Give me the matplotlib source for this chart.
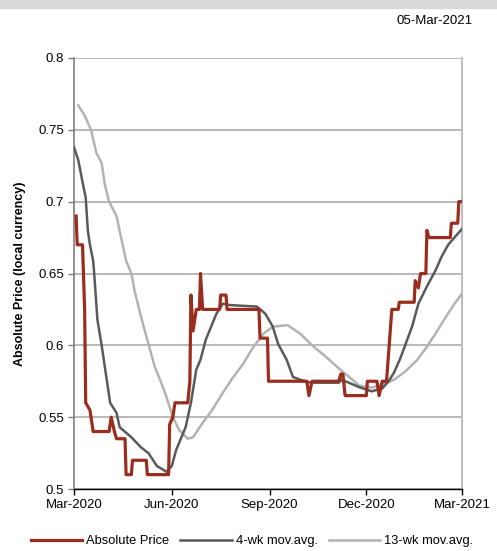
import numpy as np
import pandas as pd
import matplotlib
matplotlib.use("Agg")
import matplotlib.pyplot as plt
from matplotlib.patches import Rectangle

plt.rcParams['font.family'] = ['Liberation Sans', 'DejaVu Sans']

# absolute price
price_dates = ['2020-03-03', '2020-03-04', '2020-03-09', '2020-03-11', '2020-03-12', '2020-03-16',
               '2020-03-19', '2020-04-03', '2020-04-05', '2020-04-08', '2020-04-10', '2020-04-18',
               '2020-04-19', '2020-04-24', '2020-04-25', '2020-05-08', '2020-05-09', '2020-05-29',
               '2020-05-30', '2020-06-02', '2020-06-04', '2020-06-16', '2020-06-18', '2020-06-19',
               '2020-06-21', '2020-06-24', '2020-06-27', '2020-06-28', '2020-06-30', '2020-07-16',
               '2020-07-17', '2020-07-22', '2020-07-23', '2020-08-22', '2020-08-23', '2020-08-30',
               '2020-08-31', '2020-10-06', '2020-10-08', '2020-10-11', '2020-11-05', '2020-11-07',
               '2020-11-09', '2020-11-11', '2020-12-01', '2020-12-02', '2020-12-11', '2020-12-13',
               '2020-12-16', '2020-12-20', '2020-12-25', '2020-12-31', '2021-01-01', '2021-01-15',
               '2021-01-16', '2021-01-19', '2021-01-21', '2021-01-26', '2021-01-27', '2021-01-29',
               '2021-02-18', '2021-02-19', '2021-02-25', '2021-02-26', '2021-03-01']
price_vals = [0.69, 0.67, 0.67, 0.625, 0.56, 0.555,
              0.54, 0.54, 0.55, 0.54, 0.535, 0.535,
              0.51, 0.51, 0.52, 0.52, 0.51, 0.51,
              0.545, 0.55, 0.56, 0.56, 0.575, 0.635,
              0.61, 0.625, 0.625, 0.65, 0.625, 0.625,
              0.635, 0.635, 0.625, 0.625, 0.605, 0.605,
              0.575, 0.575, 0.565, 0.575, 0.575, 0.58,
              0.58, 0.565, 0.565, 0.575, 0.575, 0.565,
              0.575, 0.575, 0.625, 0.625, 0.63, 0.63,
              0.645, 0.64, 0.65, 0.65, 0.68, 0.675,
              0.675, 0.685, 0.685, 0.70, 0.70]

# 4-week moving average
ma4_dates = ['2020-03-01', '2020-03-05', '2020-03-10', '2020-03-12', '2020-03-14', '2020-03-16',
             '2020-03-19', '2020-03-20', '2020-03-23', '2020-03-27', '2020-03-30', '2020-04-04',
             '2020-04-10', '2020-04-13', '2020-04-24', '2020-05-03', '2020-05-10',
             '2020-05-18', '2020-05-27', '2020-06-01', '2020-06-05', '2020-06-14', '2020-06-19',
             '2020-06-24', '2020-06-28', '2020-07-03', '2020-07-08', '2020-07-13', '2020-07-19',
             '2020-07-26', '2020-08-20', '2020-08-28', '2020-09-04', '2020-09-09', '2020-09-17',
             '2020-09-23', '2020-09-30', '2020-10-10', '2020-11-05', '2020-11-08', '2020-11-24',
             '2020-12-06', '2020-12-16', '2020-12-22', '2020-12-27', '2021-01-02', '2021-01-07',
             '2021-01-13', '2021-01-19', '2021-01-27', '2021-02-04', '2021-02-10', '2021-02-16',
             '2021-02-23', '2021-03-01']
ma4_vals = [0.738, 0.729, 0.710, 0.703, 0.680, 0.670,
            0.659, 0.650, 0.618, 0.600, 0.585, 0.560,
            0.553, 0.543, 0.536, 0.529, 0.525,
            0.516, 0.512, 0.516, 0.527, 0.543, 0.560,
            0.583, 0.590, 0.604, 0.613, 0.622, 0.629,
            0.628, 0.627, 0.622, 0.613, 0.601, 0.590,
            0.578, 0.576, 0.574, 0.574, 0.576, 0.571,
            0.568, 0.570, 0.575, 0.581, 0.591, 0.601,
            0.613, 0.629, 0.641, 0.652, 0.662, 0.670,
            0.676, 0.681]

# 13-week moving average
ma13_dates = ['2020-03-05', '2020-03-11', '2020-03-17', '2020-03-22', '2020-03-27', '2020-03-30',
              '2020-04-03', '2020-04-10', '2020-04-14', '2020-04-19', '2020-04-24', '2020-04-27',
              '2020-05-03', '2020-05-10', '2020-05-16', '2020-05-21', '2020-05-27', '2020-06-02',
              '2020-06-08', '2020-06-16', '2020-06-21', '2020-06-30', '2020-07-09', '2020-07-19',
              '2020-07-28', '2020-08-07', '2020-08-16', '2020-08-26', '2020-09-04', '2020-09-18',
              '2020-09-30', '2020-10-11', '2020-10-24', '2020-11-05', '2020-11-18', '2020-11-24',
              '2020-12-06', '2020-12-16', '2020-12-27', '2021-01-07', '2021-01-18', '2021-01-26',
              '2021-02-04', '2021-02-14', '2021-02-22', '2021-03-01']
ma13_vals = [0.767, 0.760, 0.750, 0.734, 0.727, 0.712,
             0.700, 0.690, 0.676, 0.659, 0.650, 0.638,
             0.620, 0.601, 0.585, 0.576, 0.564, 0.550,
             0.541, 0.535, 0.536, 0.546, 0.555, 0.567,
             0.577, 0.587, 0.598, 0.608, 0.613, 0.614,
             0.608, 0.600, 0.592, 0.584, 0.576, 0.572,
             0.5705, 0.573, 0.576, 0.582, 0.590, 0.598,
             0.608, 0.620, 0.629, 0.636]

xtick_dates = ['2020-03-01', '2020-06-01', '2020-09-01', '2020-12-01', '2021-03-01']
xtick_labels = ['Mar-2020', 'Jun-2020', 'Sep-2020', 'Dec-2020', 'Mar-2021']

fig = plt.figure(figsize=(4.97, 5.51), dpi=100)
fig.patches.append(Rectangle((0, 1 - 8 / 551), 1, 8 / 551, transform=fig.transFigure,
                             color='#d9d9d9', zorder=0))
fig.text(473 / 497, 1 - 21 / 551, '05-Mar-2021', ha='right', va='center', fontsize=9.5)

ax = fig.add_axes([74 / 497, 1 - 489 / 551, (462 - 74) / 497, (489 - 58) / 551])

ax.plot(pd.to_datetime(ma13_dates), ma13_vals, color='#b3b3b3', lw=1.8, label='13-wk mov.avg.', zorder=3)
ax.plot(pd.to_datetime(ma4_dates), ma4_vals, color='#5a5a5a', lw=1.8, label='4-wk mov.avg.', zorder=4)
ax.plot(pd.to_datetime(price_dates), price_vals, color='#9b2d1f', lw=2.3, label='Absolute Price', zorder=5)

ax.set_xlim(pd.Timestamp('2020-03-01'), pd.Timestamp('2021-03-01'))
ax.set_ylim(0.5, 0.8)
ax.set_yticks([0.5, 0.55, 0.6, 0.65, 0.7, 0.75, 0.8])
ax.set_yticklabels(['0.5', '0.55', '0.6', '0.65', '0.7', '0.75', '0.8'])
ax.set_xticks(pd.to_datetime(xtick_dates))
ax.set_xticklabels(xtick_labels)
ax.grid(axis='y', color='#a6a6a6', lw=1.1)
ax.set_axisbelow(True)

ax.spines['top'].set_visible(False)
ax.spines['right'].set_color('#bfbfbf')
ax.spines['right'].set_linewidth(1.5)
ax.spines['left'].set_color('#7f7f7f')
ax.spines['left'].set_linewidth(1.2)
ax.spines['bottom'].set_color('black')
ax.spines['bottom'].set_linewidth(1.0)
ax.tick_params(axis='y', length=4, width=1, color='#7f7f7f', labelsize=9.5, pad=3)
ax.tick_params(axis='x', length=4, width=1, color='black', labelsize=9.5, pad=3)

ax.set_ylabel('Absolute Price (local currency)', fontsize=9, fontweight='bold', labelpad=9)

h, l = ax.get_legend_handles_labels()
order = [2, 1, 0]
fig.legend([h[i] for i in order], [l[i] for i in order], loc='center', ncol=3,
           bbox_to_anchor=(252 / 497, 1 - 541 / 551), frameon=False, fontsize=9.3,
           handlelength=4.0, columnspacing=0.85, handletextpad=0.3)

fig.savefig('out.png', dpi=100)
